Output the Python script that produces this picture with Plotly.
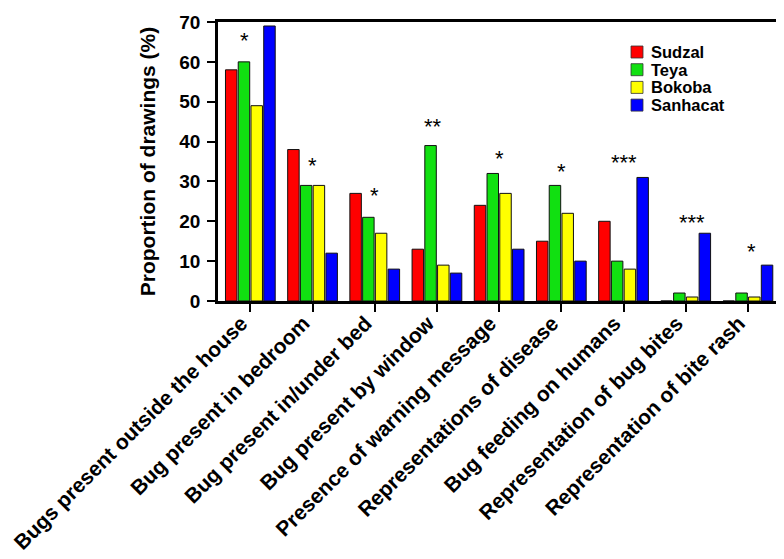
import plotly.graph_objects as go

categories = [
    "Bugs present outside the house",
    "Bug present in bedroom",
    "Bug present in/under bed",
    "Bug present by window",
    "Presence of warning message",
    "Representations of disease",
    "Bug feeding on humans",
    "Representation of bug bites",
    "Representation of bite rash",
]
series_names = ["Sudzal", "Teya", "Bokoba", "Sanhacat"]
sudzal = [58, 38, 27, 13, 24, 15, 20, 0, 0]
teya = [60, 29, 21, 39, 32, 29, 10, 2, 2]
bokoba = [49, 29, 17, 9, 27, 22, 8, 1, 1]
sanhacat = [69, 12, 8, 7, 13, 10, 31, 17, 9]
series_values = [sudzal, teya, bokoba, sanhacat]
colors = ["#ff0000", "#11e011", "#ffff00", "#0000ff"]

sig_labels = ["*", "*", "*", "**", "*", "*", "***", "***", "*"]
sig_y = [65.5, 34.3, 26.7, 44.1, 36.0, 32.8, 35.0, 19.9, 12.7]
sig_dx = [-0.1, 0, 0, -0.06, 0, 0, 0, 0.1, 0.06]

FONT = "Liberation Sans, Arial, sans-serif"
xs = list(range(len(categories)))

fig = go.Figure()
for name, vals, col in zip(series_names, series_values, colors):
    fig.add_trace(go.Bar(
        x=xs, y=vals, name=name, marker_color=col,
        marker_line=dict(color="#111111", width=1),
        showlegend=False,
    ))

for i, (lab, yv, dx) in enumerate(zip(sig_labels, sig_y, sig_dx)):
    fig.add_annotation(x=i + dx, y=yv, xref="x", yref="y", text=lab,
                       showarrow=False, yanchor="middle", yshift=-1,
                       font=dict(family=FONT, size=22, color="black"))

# manual legend (compact, like the reference)
W, H, L, T = 566, 279, 210, 14
for k, (name, col) in enumerate(zip(series_names, colors)):
    cy = 44 + k * 17.7  # pixel row center
    fig.add_shape(type="rect", xref="paper", yref="paper",
                  x0=(623 - L) / W, x1=(635 - L) / W,
                  y0=(293 - cy - 6) / H, y1=(293 - cy + 6) / H,
                  fillcolor=col, line=dict(color="#333333", width=0.8))
    fig.add_annotation(x=(641 - L) / W, y=(293 - cy) / H, xref="paper", yref="paper",
                       text=name, showarrow=False, xanchor="left", yanchor="middle",
                       font=dict(family=FONT, size=16.5, color="black", weight="bold"))

fig.update_layout(
    width=784, height=559,
    margin=dict(l=210, r=8, t=14, b=266, autoexpand=False),
    paper_bgcolor="white", plot_bgcolor="white",
    barmode="group", bargap=0.18, bargroupgap=0.1,
    font=dict(family=FONT, color="black"),
)
fig.update_xaxes(
    automargin=False, ticklabeloverflow="allow",
    ticklabelstandoff=-9, ticklabelshift=-9,
    range=[-0.52, 8.58], tickvals=xs, ticktext=categories, tickangle=-45,
    tickfont=dict(family=FONT, size=21, weight="bold", color="black"),
    showline=True, linecolor="black", linewidth=2.5, mirror=True,
    ticks="outside", ticklen=8, tickwidth=2, tickcolor="black",
    showgrid=False, zeroline=False,
)
fig.update_yaxes(
    automargin=False,
    range=[0, 70], tickvals=[0, 10, 20, 30, 40, 50, 60, 70],
    tickfont=dict(family=FONT, size=19, weight="bold", color="black"),
    ticklabelstandoff=3,
    title=dict(text="Proportion of drawings (%)", standoff=18,
               font=dict(family=FONT, size=21, weight="bold", color="black")),
    showline=True, linecolor="black", linewidth=2.5, mirror=True,
    ticks="outside", ticklen=8, tickwidth=2, tickcolor="black",
    showgrid=False, zeroline=False,
)

fig.write_html("out.html")
